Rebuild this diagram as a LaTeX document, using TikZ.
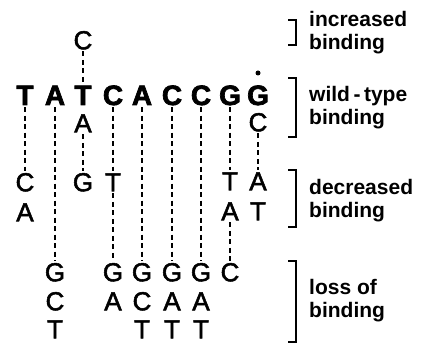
\documentclass[tikz,border=0pt]{standalone}
\usepackage{fontspec}
\setmainfont{Liberation Sans}
\newfontfamily\letterfont[FakeBold=2]{Liberation Sans}
\newfontfamily\wtfont[BoldFeatures={FakeBold=2.5}]{Liberation Sans}
\tikzset{
	base/.style={inner sep=0pt, font=\letterfont\fontsize{26}{26}\selectfont, text height=18.5pt, text depth=0pt},
	wt/.style={inner sep=0pt, font=\wtfont\fontsize{28}{28}\bfseries\selectfont, text height=20pt, text depth=0pt},
	pair/.style={line width=2.4pt, dash pattern=on 5pt off 3.5pt, shorten <=2pt, shorten >=2pt},
	brack/.style={line width=1.9pt},
	lab/.style={anchor=west, align=left, inner sep=0pt, font=\fontsize{21}{23}\bfseries\selectfont}
}
\begin{document}
\begin{tikzpicture}[x=1pt,y=-1pt]
		\useasboundingbox (0,0) rectangle (425,344);
		% wild-type sequence
		\node[wt] (w1) at (25,95) {T};
		\node[wt] (w2) at (55,95) {A};
		\node[wt] (w3) at (83,95) {T};
		\node[wt] (w4) at (113,95) {C};
		\node[wt] (w5) at (142,95) {A};
		\node[wt] (w6) at (172,95) {C};
		\node[wt] (w7) at (201,95) {C};
		\node[wt] (w8) at (230,95) {G};
		\node[wt] (w9) at (258,95) {G};
		\node[circle, fill, inner sep=0pt, minimum size=5pt] (dot) at (258,73) {};
		% increased
		\node[base] (i3) at (83,40) {C};
		% wild-type second row
		\node[base] (s3) at (83,123) {A};
		\node[base] (s9) at (258,122) {C};
		% decreased
		\node[base] (d1) at (25,182) {C};
		\node[base] (e1) at (25,212) {A};
		\node[base] (d3) at (83,182) {G};
		\node[base] (d4) at (113,182) {T};
		\node[base] (d8) at (230,181) {T};
		\node[base] (e8) at (230,211) {A};
		\node[base] (d9) at (258,181) {A};
		\node[base] (e9) at (258,211) {T};
		% loss
		\node[base] (l2) at (55,272) {G};
		\node[base] (m2) at (55,301) {C};
		\node[base] (n2) at (55,329) {T};
		\node[base] (l4) at (113,272) {G};
		\node[base] (m4) at (113,301) {A};
		\node[base] (l5) at (142,272) {G};
		\node[base] (m5) at (142,301) {C};
		\node[base] (n5) at (142,329) {T};
		\node[base] (l6) at (172,272) {G};
		\node[base] (m6) at (172,301) {A};
		\node[base] (n6) at (172,329) {T};
		\node[base] (l7) at (201,272) {G};
		\node[base] (m7) at (201,301) {A};
		\node[base] (n7) at (201,329) {T};
		\node[base] (l8) at (230,272) {C};
		% dashed lines
		\draw[pair] (w1) -- (d1);
		\draw[pair] (w2) -- (l2);
		\draw[pair] (i3) -- (w3);
		\draw[pair] (s3) -- (d3);
		\draw[pair] (w4) -- (d4);
		\draw[pair] (d4) -- (l4);
		\draw[pair] (w5) -- (l5);
		\draw[pair] (w6) -- (l6);
		\draw[pair] (w7) -- (l7);
		\draw[pair] (w8) -- (d8);
		\draw[pair] (e8) -- (l8);
		\draw[pair] (s9) -- (d9);
		% brackets
		\draw[brack] (288,20) -- (296,20) -- (296,45) -- (288,45);
		\draw[brack] (288,78) -- (296,78) -- (296,137) -- (288,137);
		\draw[brack] (288,170) -- (296,170) -- (296,227) -- (288,227);
		\draw[brack] (288,261) -- (296,261) -- (296,342) -- (288,342);
		\node[lab] (inc) at (309,33) {increased\\binding};
		\node[lab] (wild) at (309,108) {wild\,-\,type\\binding};
		\node[lab] (dec) at (309,201) {decreased\\binding};
		\node[lab] (loss) at (309,301) {loss of\\binding};
	\end{tikzpicture}
\end{document}
